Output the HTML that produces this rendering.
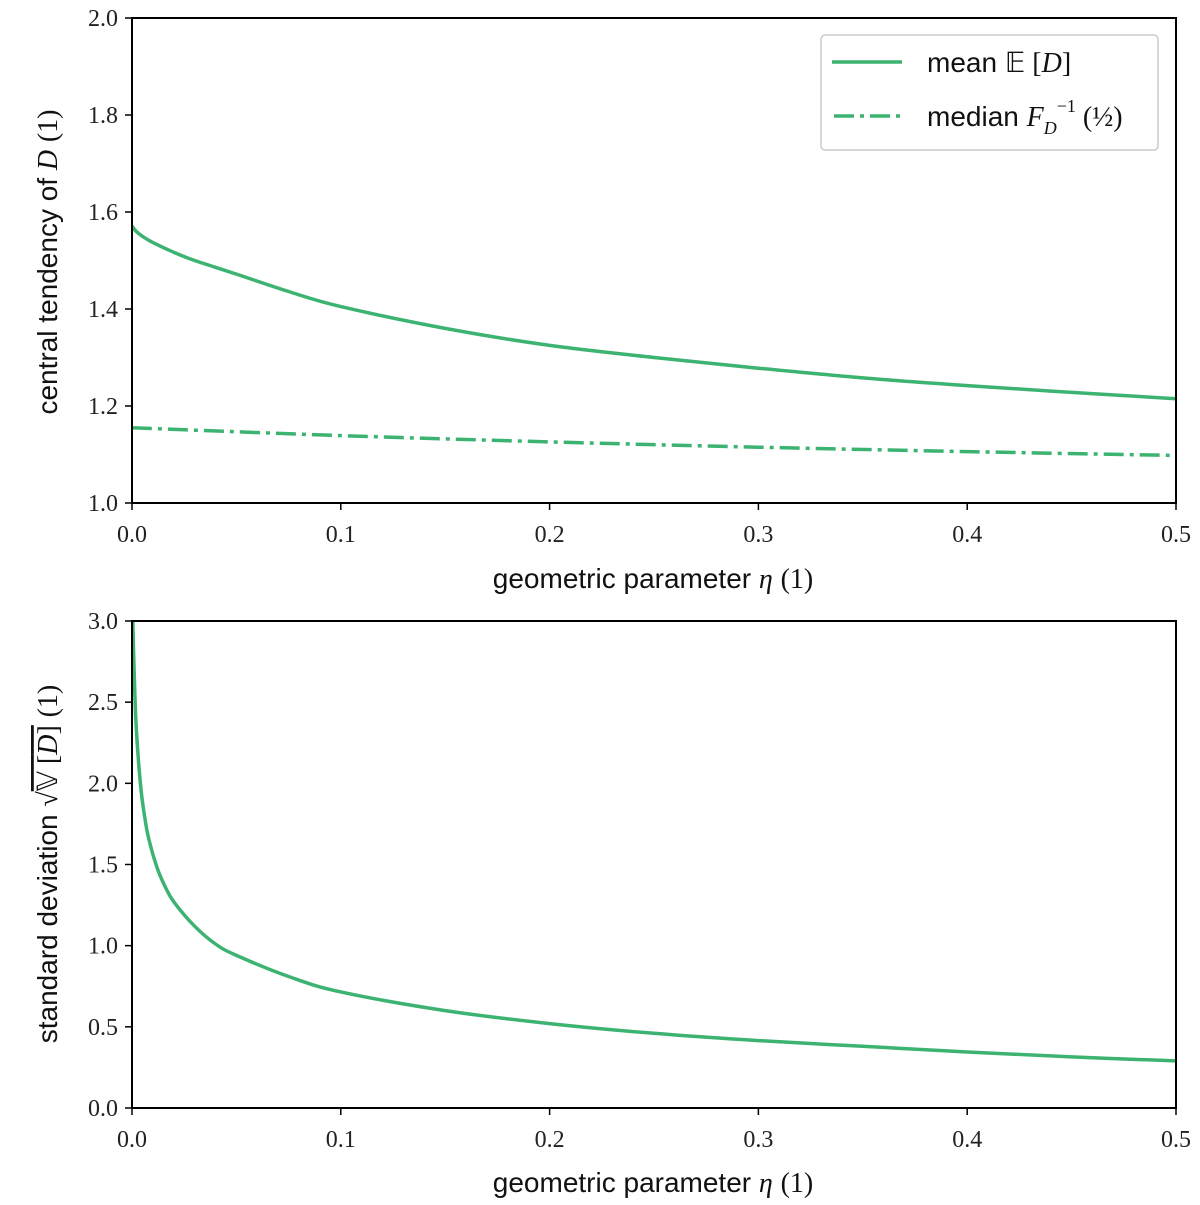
<!DOCTYPE html>
<html><head><meta charset="utf-8"><style>
body{margin:0;background:#fff;}
svg{display:block;}
.tick{font-family:"Liberation Serif",serif;font-size:24px;fill:#222;}
.lab{font-family:"Liberation Sans",sans-serif;font-size:28px;fill:#111;}
.math{font-family:"Liberation Serif",serif;font-style:italic;}
.rm{font-family:"Liberation Serif",serif;font-style:normal;}
</style></head><body>
<svg id="chart" width="1200" height="1205" viewBox="0 0 1200 1205" xmlns="http://www.w3.org/2000/svg">
<g id="top"></g>
<g id="bot"></g>
<g>
<rect x="821" y="35" width="337" height="115" rx="4" fill="#fff" stroke="#ccc" stroke-width="1.5"/>
<line x1="832" y1="62" x2="902" y2="62" stroke="#3cb371" stroke-width="3.5"/>
<text x="927" y="72" class="lab">mean <tspan class="rm">𝔼 [</tspan><tspan class="math">D</tspan><tspan class="rm">]</tspan></text>
<line x1="834" y1="116" x2="902" y2="116" stroke="#3cb371" stroke-width="3.5" stroke-dasharray="20,6,4,6"/>
<text x="927" y="126" class="lab">median <tspan class="math">F</tspan><tspan class="math" font-size="18" dy="8">D</tspan><tspan class="rm" font-size="18" dy="-22">−1</tspan><tspan class="rm" dy="14"> (½)</tspan></text>
</g>
</svg>
<script>
const meanX=[0,0.002,0.005,0.01,0.02,0.03,0.05,0.075,0.1,0.15,0.2,0.25,0.3,0.35,0.4,0.45,0.5];
const meanY=[1.571,1.56,1.55,1.537,1.517,1.5,1.472,1.436,1.405,1.36,1.325,1.30,1.278,1.258,1.242,1.228,1.215];
const medX=[0,0.1,0.2,0.3,0.4,0.5];
const medY=[1.155,1.139,1.126,1.115,1.106,1.098];
const stdX=[0,0.0005,0.001,0.002,0.004,0.006,0.008,0.012,0.016,0.02,0.03,0.04,0.05,0.075,0.1,0.15,0.2,0.25,0.3,0.35,0.4,0.45,0.5];
const stdY=[3.4,2.95,2.7,2.35,2.0,1.8,1.66,1.48,1.36,1.27,1.12,1.01,0.94,0.81,0.715,0.6,0.52,0.46,0.415,0.38,0.345,0.315,0.29];
const xTicks=["0.0","0.1","0.2","0.3","0.4","0.5"];
const topYTicks=["1.0","1.2","1.4","1.6","1.8","2.0"];
const botYTicks=["0.0","0.5","1.0","1.5","2.0","2.5","3.0"];
const NS="http://www.w3.org/2000/svg";
const L=132,R=1176,COL="#3cb371";
function mk(p,t,a){const e=document.createElementNS(NS,t);for(const k in a)e.setAttribute(k,a[k]);p.appendChild(e);return e;}
function panel(g,T,B,y0,y1,yt,clipId){
  const sx=v=>L+(v/0.5)*(R-L);
  const sy=v=>B-(v-y0)/(y1-y0)*(B-T);
  const defs=mk(g,'defs',{});const cp=mk(defs,'clipPath',{id:clipId});mk(cp,'rect',{x:L,y:T,width:R-L,height:B-T});
  xTicks.forEach(t=>{const x=sx(+t);
    const l=mk(g,'line',{x1:x,y1:B,x2:x,y2:B+7,stroke:'#000','stroke-width':1.5});
    
    
    const tx=mk(g,'text',{x:x,y:B+39,'text-anchor':'middle',class:'tick'});tx.textContent=t;
    
    });
  yt.forEach(t=>{const y=sy(+t);
    const l=mk(g,'line',{x1:L-7,y1:y,x2:L,y2:y,stroke:'#000','stroke-width':1.5});
    
    
    const tx=mk(g,'text',{x:L-14,y:y+8,'text-anchor':'end',class:'tick'});tx.textContent=t;
    
    });
  return {sx,sy};
}
function line(g,xs,ys,s,clip,dash,name){
  const P=xs.map((x,i)=>[s.sx(x),s.sy(ys[i])]);
  let d='M'+P[0][0].toFixed(1)+','+P[0][1].toFixed(1);
  for(let i=0;i<P.length-1;i++){
    const p0=P[Math.max(i-1,0)],p1=P[i],p2=P[i+1],p3=P[Math.min(i+2,P.length-1)];
    const c1=[p1[0]+(p2[0]-p0[0])/6,p1[1]+(p2[1]-p0[1])/6];
    const c2=[p2[0]-(p3[0]-p1[0])/6,p2[1]-(p3[1]-p1[1])/6];
    d+='C'+c1.map(v=>v.toFixed(1)).join(',')+' '+c2.map(v=>v.toFixed(1)).join(',')+' '+p2.map(v=>v.toFixed(1)).join(',');
  }
  const p=mk(g,'path',{d:d,fill:'none',stroke:COL,'stroke-width':3.5,'clip-path':'url(#'+clip+')','stroke-linejoin':'round'});
  if(dash)p.setAttribute('stroke-dasharray',dash);
  
  
}
const gt=document.getElementById('top'),gb=document.getElementById('bot');
const s1=panel(gt,18,503,1,2,topYTicks,'c1');
line(gt,meanX,meanY,s1,'c1',null,'mean-line');
line(gt,medX,medY,s1,'c1','20,6,4,6','median-line');
const f1=mk(gt,'rect',{x:L,y:18,width:R-L,height:485,fill:'none',stroke:'#000','stroke-width':2});


const s2=panel(gb,621,1108,0,3,botYTicks,'c2');
line(gb,stdX,stdY,s2,'c2',null,'std-line');
const f2=mk(gb,'rect',{x:L,y:621,width:R-L,height:487,fill:'none',stroke:'#000','stroke-width':2});


function xl(g,y,n){const t=mk(g,'text',{x:653,y:y,'text-anchor':'middle',class:'lab'});
  t.innerHTML='geometric parameter <tspan class="math">η</tspan> <tspan class="rm">(1)</tspan>';
  
  }
xl(gt,588,'top-x-axis-title');xl(gb,1192,'bottom-x-axis-title');
const y1=mk(gt,'text',{x:0,y:0,'text-anchor':'middle',class:'lab',transform:'translate(57,262) rotate(-90)'});
y1.innerHTML='central tendency of <tspan class="math">D</tspan> <tspan class="rm">(1)</tspan>';


const y2=mk(gb,'text',{x:0,y:0,'text-anchor':'middle',class:'lab',transform:'translate(57,864) rotate(-90)'});
y2.innerHTML='standard deviation <tspan class="rm">√</tspan><tspan class="rm" text-decoration="overline">𝕍 [<tspan class="math">D</tspan>]</tspan> <tspan class="rm">(1)</tspan>';


</script>
</body></html>
